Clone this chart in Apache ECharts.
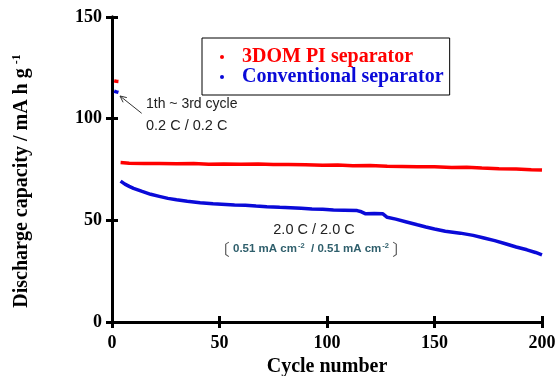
<!DOCTYPE html>
<html>
<head>
<meta charset="utf-8">
<script src="https://cdn.jsdelivr.net/npm/echarts@6/dist/echarts.min.js"></script>
<style>html,body{margin:0;padding:0;background:#fff;}#c{width:555px;height:376px;}</style>
</head>
<body>
<div id="c"></div>
<script>
// ---- data ----
const xTicks = [0, 50, 100, 150, 200];
const yTicks = [0, 50, 100, 150];
const seriesNames = ['3DOM PI separator', 'Conventional separator'];

const pi3domCycles = [1,2,3,3.5,4,8,15,22,30,38,45,52,60,68,75,82,90,98,105,112,120,128,135,142,150,158,165,172,180,188,195,200];
const pi3domCapacity = [118.6,118.4,118.3,null,78.4,78.1,77.9,78.0,77.8,77.9,77.6,77.7,77.6,77.7,77.4,77.5,77.3,77.1,77.2,76.9,77.0,76.6,76.5,76.4,76.3,76.0,76.1,75.7,75.4,75.2,74.9,74.7];

const convCycles = [1,2,3,3.5,4,6,8,10,14,18,22,26,30,35,41,47,53,57,62,67,72,78,83,88,93,98,103,108,114,116,118,122,126,128,132,137,142,146,150,155,162,168,173,178,183,188,193,197,200];
const convCapacity = [113.6,113.2,112.9,null,69.3,67.8,66.7,65.7,64.2,62.8,61.8,60.8,60.1,59.4,58.7,58.1,57.8,57.6,57.4,57.0,56.7,56.4,56.2,55.9,55.6,55.4,55.1,55.0,54.8,54.2,53.2,53.4,53.2,51.5,50.6,49.2,47.8,46.7,45.7,44.6,43.7,42.6,41.3,40.0,38.5,36.9,35.5,34.2,33.0];

const toPairs = (xs, ys) => xs.map((x, i) => [x, ys[i] === null ? '-' : ys[i]]);

const serif = '"Liberation Serif", "Times New Roman", serif';
const sans = '"Liberation Sans", Arial, sans-serif';
const RED = '#ff0000', BLUE = '#0a0ad8';

const chart = echarts.init(document.getElementById('c'));
const axisCommon = {
  type: 'value',
  axisLine: { show: true, lineStyle: { color: '#000', width: 3 } },
  axisTick: { show: true, inside: true, length: 6, lineStyle: { color: '#000', width: 3 } },
  splitLine: { show: false }
};
chart.setOption({
  animation: false,
  grid: { left: 112, right: 13, top: 17, bottom: 54, containLabel: false, outerBoundsMode: 'none' },
  xAxis: [
    Object.assign({}, axisCommon, {
      min: xTicks[0], max: xTicks[xTicks.length - 1], interval: 50, position: 'bottom',
      axisLabel: { margin: 12, color: '#000', fontFamily: serif, fontWeight: 'bold', fontSize: 18, hideOverlap: false },
      name: 'Cycle number', nameLocation: 'middle', nameGap: 31,
      nameTextStyle: { color: '#000', fontFamily: serif, fontWeight: 'bold', fontSize: 20 }
    }),
    Object.assign({}, axisCommon, {
      min: xTicks[0], max: xTicks[xTicks.length - 1], interval: 50, position: 'top',
      axisLabel: { show: false }
    })
  ],
  yAxis: [
    Object.assign({}, axisCommon, {
      min: yTicks[0], max: yTicks[yTicks.length - 1], interval: 50, position: 'left',
      axisLabel: { margin: 10, color: '#000', fontFamily: serif, fontWeight: 'bold', fontSize: 18 }
    }),
    Object.assign({}, axisCommon, {
      min: yTicks[0], max: yTicks[yTicks.length - 1], interval: 50, position: 'right',
      axisLabel: { show: false }
    })
  ],
  legend: {
    orient: 'vertical', left: 202, top: 38,
    padding: [9, 6, 8, 18],
    itemGap: 0, itemWidth: 4, itemHeight: 4, icon: 'circle',
    borderColor: '#000', borderWidth: 1, backgroundColor: '#fff',
    textStyle: { fontFamily: serif, fontWeight: 'bold', fontSize: 20, lineHeight: 18, padding: [0, 0, 0, 13] },
    data: [
      { name: seriesNames[0], textStyle: { color: RED } },
      { name: seriesNames[1], textStyle: { color: BLUE } }
    ]
  },
  series: [
    {
      name: seriesNames[0], type: 'line', xAxisIndex: 0, yAxisIndex: 0,
      data: toPairs(pi3domCycles, pi3domCapacity), showSymbol: false, connectNulls: false,
      color: RED, lineStyle: { width: 3.5, color: RED }, z: 3
    },
    {
      name: seriesNames[1], type: 'line', xAxisIndex: 0, yAxisIndex: 0,
      data: toPairs(convCycles, convCapacity), showSymbol: false, connectNulls: false,
      color: BLUE, lineStyle: { width: 3.5, color: BLUE }, z: 3
    }
  ],
  graphic: [
    {
      type: 'text', x: 22, y: 181, rotation: Math.PI / 2,
      style: {
        text: '{m|Discharge capacity / mA h g}{s|-1}',
        textAlign: 'center', textVerticalAlign: 'middle',
        rich: {
          m: { fontFamily: serif, fontWeight: 'bold', fontSize: 20, fill: '#000' },
          s: { fontFamily: serif, fontWeight: 'bold', fontSize: 12, fill: '#000', verticalAlign: 'top', padding: [0, 0, 10, 4] }
        }
      }
    },
    { type: 'text', x: 146, y: 104, style: { text: '1th ~ 3rd cycle', fontFamily: sans, fontSize: 14, fill: '#222', textVerticalAlign: 'middle' } },
    { type: 'text', x: 146, y: 126, style: { text: '0.2 C / 0.2 C', fontFamily: sans, fontSize: 14.5, fill: '#222', textVerticalAlign: 'middle' } },
    { type: 'text', x: 314, y: 230, style: { text: '2.0 C / 2.0 C', fontFamily: sans, fontSize: 14.5, fill: '#222', textAlign: 'center', textVerticalAlign: 'middle' } },
    {
      type: 'text', x: 311, y: 249,
      style: {
        text: '{b|〔} {t|0.51 mA cm}{s|-2}{t|  / 0.51 mA cm}{s|-2} {b|〕}',
        textAlign: 'center', textVerticalAlign: 'middle',
        rich: {
          b: { fontFamily: '"Noto Sans CJK SC", sans-serif', fontSize: 16, fill: '#555' },
          t: { fontFamily: sans, fontWeight: 'bold', fontSize: 11.5, fill: '#2f5f6c' },
          s: { fontFamily: sans, fontWeight: 'bold', fontSize: 7.5, fill: '#2f5f6c', padding: [0, 0, 6, 1] }
        }
      }
    },
    { type: 'polyline', shape: { points: [[141.7, 113.3], [120, 96]] }, style: { stroke: '#333', lineWidth: 1, fill: null } },
    { type: 'polyline', shape: { points: [[123.1, 102.3], [120, 96], [126.8, 97.6]] }, style: { stroke: '#333', lineWidth: 1, fill: null } }
  ]
});
</script>
</body>
</html>
